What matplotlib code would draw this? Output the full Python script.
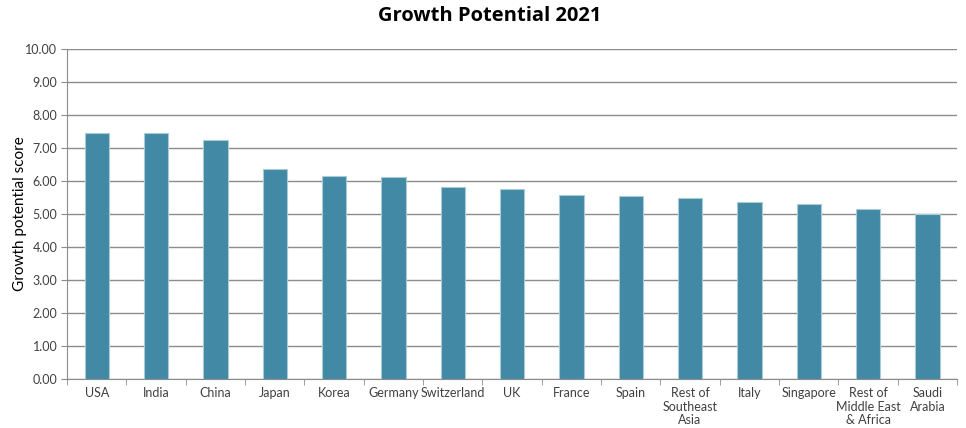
import matplotlib.pyplot as plt
import numpy as np

# Growth potential scores by market, 2021
countries = ["USA", "India", "China", "Japan", "Korea", "Germany", "Switzerland",
             "UK", "France", "Spain", "Rest of\nSoutheast\nAsia", "Italy",
             "Singapore", "Rest of\nMiddle East\n& Africa", "Saudi\nArabia"]
scores = [7.46, 7.44, 7.23, 6.35, 6.15, 6.12, 5.83, 5.75, 5.58, 5.55,
          5.50, 5.36, 5.31, 5.15, 5.00]

plt.rcParams['font.family'] = ['Lato', 'DejaVu Sans']

fig = plt.figure(figsize=(9.66, 4.28), dpi=100)
ax = fig.add_axes([0.0694, 0.1145, 0.9213, 0.771])

x = np.arange(len(countries))
ax.bar(x, scores, width=0.41, color='#4189a5', edgecolor='#a9cbd8',
       linewidth=0.8, zorder=3)

ax.set_xlim(-0.5, len(countries) - 0.5)
ax.set_ylim(0, 10)
ax.set_yticks(np.arange(0, 10.01, 1))
ax.set_yticklabels([f"{v:.2f}" for v in np.arange(0, 10.01, 1)])
ax.yaxis.grid(True, color='#8c8c8c', linewidth=1.0, zorder=0)

# category labels centred on bars, tick marks at the boundaries
ax.set_xticks(x)
ax.set_xticklabels(countries, fontsize=9, color='#404040', linespacing=1.15)
ax.tick_params(axis='x', length=0, pad=6)
ax.set_xticks(np.arange(-0.5, len(countries)), minor=True)
ax.tick_params(axis='x', which='minor', length=4, color='#8c8c8c')
ax.tick_params(axis='y', labelsize=9, labelcolor='#404040', length=4,
               color='#8c8c8c', pad=3)

for side in ['top', 'right']:
    ax.spines[side].set_visible(False)
ax.spines['left'].set_color('#8c8c8c')
ax.spines['bottom'].set_color('#8c8c8c')

ax.set_ylabel('Growth potential score', fontsize=11, color='black')
ax.yaxis.set_label_coords(-0.045, 0.5)
fig.suptitle('Growth Potential 2021', fontsize=14.5, fontweight='bold',
             family=['Open Sans', 'DejaVu Sans'], x=0.507, y=0.985)

fig.savefig('out.png', dpi=100)
